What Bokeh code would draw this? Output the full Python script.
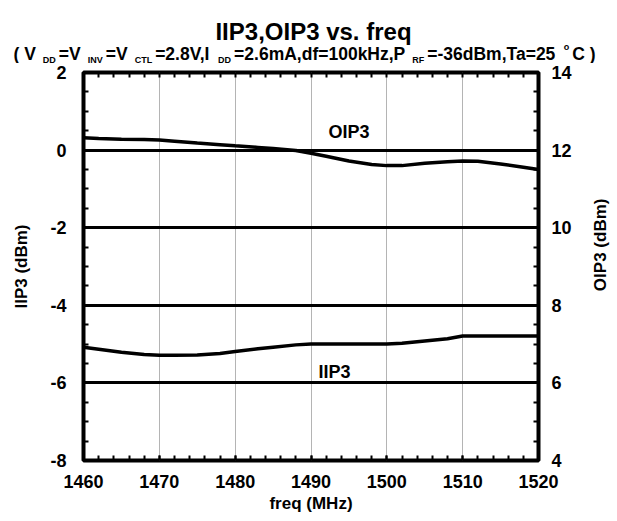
import math
import numpy as np
from bokeh.plotting import figure
from bokeh.layouts import column, row
from bokeh.models import LinearAxis, Range1d, FixedTicker, Label, CustomJSTickFormatter
from bokeh.embed import file_html
from bokeh.resources import INLINE

FONT = "Liberation Sans"

# data
freq = [1460, 1462, 1465, 1468, 1470, 1472, 1475, 1478, 1480, 1483, 1485, 1488,
        1490, 1492, 1495, 1498, 1500, 1502, 1505, 1508, 1510, 1512, 1515, 1518, 1520]
iip3 = [-5.08, -5.13, -5.21, -5.27, -5.29, -5.29, -5.28, -5.24, -5.19, -5.12, -5.08, -5.02,
        -5.00, -5.00, -5.00, -5.00, -5.00, -4.98, -4.92, -4.86, -4.79, -4.79, -4.79, -4.79, -4.79]
oip3 = [12.32, 12.30, 12.28, 12.27, 12.26, 12.23, 12.18, 12.14, 12.11, 12.07, 12.04, 11.99,
        11.92, 11.84, 11.72, 11.63, 11.60, 11.60, 11.66, 11.70, 11.72, 11.71, 11.64, 11.56, 11.50]

x_ticks = [1460, 1470, 1480, 1490, 1500, 1510, 1520]
iip3_ticks = [-8, -6, -4, -2, 0, 2]
oip3_ticks = [4, 6, 8, 10, 12, 14]

title = "IIP3,OIP3 vs. freq"
subtitle = [("( V", "main"), ("DD", "sub"), ("=V", "main"), ("INV", "sub"),
            ("=V", "main"), ("CTL", "sub"), ("=2.8V,I", "main"), ("DD", "sub"),
            ("=2.6mA,df=100kHz,P", "main"), ("RF", "sub"), ("=-36dBm,Ta=25", "main"),
            ("o", "sup"), ("C )", "main")]

# layout (px)
W, H = 612, 520
HEAD_H = 63
MAIN_W = 574
MAIN_H = H - HEAD_H
FL, FT, FW, FH = 83, 9, 455, 388

def bare_fig(w, h):
    f = figure(width=w, height=h, x_range=Range1d(0, w), y_range=Range1d(h, 0),
               output_backend="svg", toolbar_location=None, title=None,
               x_axis_type=None, y_axis_type=None,
               min_border_left=0, min_border_right=0,
               min_border_top=0, min_border_bottom=0)
    f.outline_line_color = None
    f.background_fill_color = "white"
    f.border_fill_color = "white"
    return f

def lab(f, text, x, y, size, align="left", angle=0):
    f.add_layout(Label(x=x, y=y, text=text, text_font=FONT,
                       text_font_style="bold", text_font_size=size,
                       text_color="black", text_align=align,
                       text_baseline="alphabetic", angle=angle))

# ---- title strip
head = bare_fig(W, HEAD_H)
lab(head, title, 313, 30.5, "24px", align="center")

# Arial Bold advance widths, to lay out the subtitle with its subscripts
adv = {" ": 278, "(": 333, ")": 333, ",": 278, "-": 333, ".": 278, "=": 584,
       "A": 722, "B": 722, "C": 722, "D": 722, "F": 611, "H": 722, "I": 278,
       "L": 611, "N": 722, "P": 667, "R": 722, "T": 611, "V": 667,
       "a": 556, "d": 611, "f": 333, "k": 556, "m": 889, "o": 611, "z": 500}

def width(s, px):
    return sum(adv.get(c, 556) for c in s) * px / 1000

sizes = {"main": 17.5, "sub": 9, "sup": 9}
base = {"main": 53.5, "sub": 59, "sup": 46}
cx = 13
for text, kind in subtitle:
    if kind != "main":
        cx += 7
    lab(head, text, cx, base[kind], "%gpx" % sizes[kind])
    cx += width(text, sizes[kind])
    if kind != "main":
        cx += 3

# ---- main chart
p = figure(width=MAIN_W, height=MAIN_H, x_range=Range1d(1460, 1520), y_range=Range1d(-8, 2),
           output_backend="svg", toolbar_location=None, title=None,
           min_border_left=FL, min_border_top=FT,
           min_border_right=MAIN_W - FL - FW, min_border_bottom=MAIN_H - FT - FH)
p.extra_y_ranges = {"oip3": Range1d(4, 14)}
p.outline_line_color = "black"
p.outline_line_width = 4
p.background_fill_color = "white"
p.border_fill_color = "white"

def style_axis(ax):
    ax.axis_line_color = None
    ax.major_tick_in = 5
    ax.major_tick_out = 0
    ax.minor_tick_in = 5
    ax.minor_tick_out = 0
    ax.major_tick_line_width = 2
    ax.minor_tick_line_width = 2
    ax.major_tick_line_color = "black"
    ax.minor_tick_line_color = "black"
    ax.major_label_text_font = FONT
    ax.major_label_text_font_style = "bold"
    ax.major_label_text_font_size = "18px"
    ax.major_label_text_color = "black"
    ax.axis_label_text_font = FONT
    ax.axis_label_text_font_style = "bold"
    ax.axis_label_text_font_size = "17px"
    ax.axis_label_text_color = "black"

plain = CustomJSTickFormatter(code="return tick.toString()")

x_minor = list(np.arange(1460, 1521, 2))
xa = p.xaxis[0]
xa.ticker = FixedTicker(ticks=x_ticks, minor_ticks=x_minor)
xa.axis_label = "freq (MHz)"
style_axis(xa)
xa.major_label_standoff = 14
xa.axis_label_standoff = 3

ya = p.yaxis[0]
ya.ticker = FixedTicker(ticks=iip3_ticks, minor_ticks=list(np.arange(-8, 2.01, 0.5)))
ya.formatter = plain
ya.axis_label = "IIP3 (dBm)"
style_axis(ya)
ya.major_label_standoff = 17
ya.axis_label_standoff = 16

ra = LinearAxis(y_range_name="oip3", formatter=plain,
                ticker=FixedTicker(ticks=oip3_ticks, minor_ticks=list(np.arange(4, 14.01, 0.5))))
style_axis(ra)
ra.major_label_standoff = 13
p.add_layout(ra, "right")

ta = LinearAxis(ticker=FixedTicker(ticks=[], minor_ticks=x_minor))
style_axis(ta)
p.add_layout(ta, "above")

p.ygrid.ticker = FixedTicker(ticks=[-6, -4, -2, 0])
p.ygrid.grid_line_color = "black"
p.ygrid.grid_line_width = 3
p.xgrid.ticker = FixedTicker(ticks=[1470, 1480, 1490, 1500, 1510])
p.xgrid.grid_line_color = "#b4b4b4"
p.xgrid.grid_line_width = 1

p.line(freq, iip3, line_width=3.5, line_color="black")
p.line(freq, oip3, line_width=3.5, line_color="black", y_range_name="oip3")

lab(p, "OIP3", 1492.3, 0.46, "18px")
lab(p, "IIP3", 1491.0, -5.72, "18px")

# ---- right axis title strip
side = bare_fig(W - MAIN_W, MAIN_H)
lab(side, "OIP3 (dBm)", 600 - MAIN_W, FT + FH / 2, "17px", align="center", angle=math.pi / 2)

layout = column(head, row(p, side, spacing=0), spacing=0)

open("out.html", "w").write(file_html(layout, INLINE))
